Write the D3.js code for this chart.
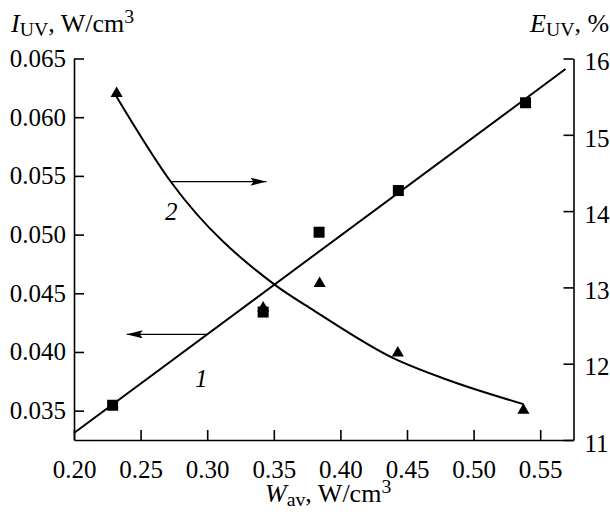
<!DOCTYPE html>
<html>
<head>
<meta charset="utf-8">
<script src="https://cdn.jsdelivr.net/npm/d3@7"></script>
<style>
  html, body { margin: 0; padding: 0; background: #fff; }
</style>
</head>
<body>
<svg id="chart" width="610" height="512"></svg>
<script>
// Measured points: UV intensity (squares, left axis) and UV efficiency (triangles, right axis)
const wSquares = [0.229, 0.342, 0.384, 0.4435, 0.539];
const iSquares = [0.03546, 0.0434, 0.0502, 0.05375, 0.06123];
const wTriangles = [0.232, 0.342, 0.3844, 0.4431, 0.5374];
const eTriangles = [15.54, 12.73, 13.05, 12.14, 11.39];

// Curve 1: straight fit of I_UV
const wFit1 = [0.20, 0.569];
const iFit1 = [0.0331, 0.0641];

// Curve 2: smooth fit of E_UV
const wFit2 = [0.2316, 0.2727, 0.3511, 0.3799, 0.4401, 0.4802, 0.5374];
const eFit2 = [15.51, 14.385, 13.03, 12.70, 12.07, 11.79, 11.47];

// Axis ticks
const xTicks = [0.20, 0.25, 0.30, 0.35, 0.40, 0.45, 0.50, 0.55];
const iTicks = [0.035, 0.040, 0.045, 0.050, 0.055, 0.060, 0.065];
const eTicks = [11, 12, 13, 14, 15, 16];

const FONT = "'Liberation Serif', Tinos, 'Times New Roman', 'DejaVu Serif', serif";
const svg = d3.select("#chart").attr("font-family", FONT);
const fs = 25;
const tfs = 26;

const x = d3.scaleLinear().domain([0.20, 0.575]).range([74, 573.5]);
const yL = d3.scaleLinear().domain([0.0325, 0.065]).range([440, 58.5]);
const yR = d3.scaleLinear().domain([11, 16]).range([440, 58.5]);

function styleAxis(g) {
  g.attr("font-family", FONT);
  g.selectAll("path.domain").attr("stroke", "#000").attr("stroke-width", 1.6);
  g.selectAll(".tick line").attr("stroke", "#000").attr("stroke-width", 1.6);
  g.selectAll(".tick text").style("font-family", FONT)
    .style("font-size", fs + "px").attr("fill", "#000");
}

svg.append("g")
  .attr("transform", "translate(0,440)")
  .call(d3.axisBottom(x).tickValues(xTicks).tickFormat(d3.format(".2f"))
        .tickSize(-10).tickSizeOuter(0).tickPadding(20))
  .call(styleAxis);

svg.append("g")
  .attr("transform", "translate(74,0)")
  .call(d3.axisLeft(yL).tickValues(iTicks).tickFormat(d3.format(".3f"))
        .tickSize(-10).tickSizeOuter(0).tickPadding(8))
  .call(styleAxis);

svg.append("g")
  .attr("transform", "translate(573.5,0)")
  .call(d3.axisRight(yR).tickValues(eTicks).tickFormat(d3.format("d"))
        .tickSize(-10).tickSizeOuter(0).tickPadding(11))
  .call(styleAxis)
  .selectAll(".tick text").attr("dy", "0.45em");

// Fit lines
svg.append("path")
  .datum(wFit1.map((w, i) => [w, iFit1[i]]))
  .attr("fill", "none").attr("stroke", "#000").attr("stroke-width", 2)
  .attr("d", d3.line().x(d => x(d[0])).y(d => yL(d[1])));

svg.append("path")
  .datum(wFit2.map((w, i) => [w, eFit2[i]]))
  .attr("fill", "none").attr("stroke", "#000").attr("stroke-width", 2)
  .attr("d", d3.line().curve(d3.curveMonotoneX).x(d => x(d[0])).y(d => yR(d[1])));

// Arrowhead marker
svg.append("defs").append("marker")
  .attr("id", "head")
  .attr("viewBox", "0 0 16 8")
  .attr("refX", 16).attr("refY", 4)
  .attr("markerWidth", 16).attr("markerHeight", 8)
  .attr("markerUnits", "userSpaceOnUse")
  .attr("orient", "auto")
  .append("path").attr("d", "M0,0L16,4L0,8L3,4Z").attr("fill", "#000");

// Arrows pointing each curve to its axis
const arrows = [
  { from: [0.2727, 14.385], to: [0.3445, 14.385], y: yR },
  { from: [0.2998, 0.04150], to: [0.2396, 0.04150], y: yL }
];
arrows.forEach(a => {
  svg.append("line")
    .attr("x1", x(a.from[0])).attr("y1", a.y(a.from[1]))
    .attr("x2", x(a.to[0])).attr("y2", a.y(a.to[1]))
    .attr("stroke", "#000").attr("stroke-width", 1.3)
    .attr("marker-end", "url(#head)");
});

// Markers: triangles first, squares on top
svg.append("g").selectAll("path")
  .data(wTriangles.map((w, i) => [w, eTriangles[i]]))
  .join("path")
  .attr("transform", d => `translate(${x(d[0])},${yR(d[1])})`)
  .attr("d", d3.symbol(d3.symbolTriangle, 64))
  .attr("fill", "#000");

svg.append("g").selectAll("rect")
  .data(wSquares.map((w, i) => [w, iSquares[i]]))
  .join("rect")
  .attr("x", d => x(d[0]) - 5.5).attr("y", d => yL(d[1]) - 5.5)
  .attr("width", 11).attr("height", 11)
  .attr("fill", "#000");

// Curve labels
svg.append("text").attr("x", 165).attr("y", 220)
  .style("font-family", FONT)
  .style("font-size", fs + "px").style("font-style", "italic").text("2");
svg.append("text").attr("x", 195).attr("y", 387)
  .style("font-family", FONT)
  .style("font-size", fs + "px").style("font-style", "italic").text("1");

// Axis titles with sub/superscripts
function title(xPos, yPos, main, sub, rest, sup) {
  const t = svg.append("text").attr("x", xPos).attr("y", yPos)
    .style("font-family", FONT).style("font-size", tfs + "px");
  t.append("tspan").style("font-style", "italic").text(main);
  t.append("tspan").style("font-size", (tfs * 0.76) + "px").attr("dy", 4).text(sub);
  t.append("tspan").attr("dy", -4).text(rest);
  if (sup) t.append("tspan").style("font-size", (tfs * 0.76) + "px").attr("dy", -9).text(sup);
  return t;
}
title(11, 32, "I", "UV", ", W/cm", "3");
title(530, 32, "E", "UV", ", %", null);
title(265, 502, "W", "av", ", W/cm", "3");
</script>
</body>
</html>
